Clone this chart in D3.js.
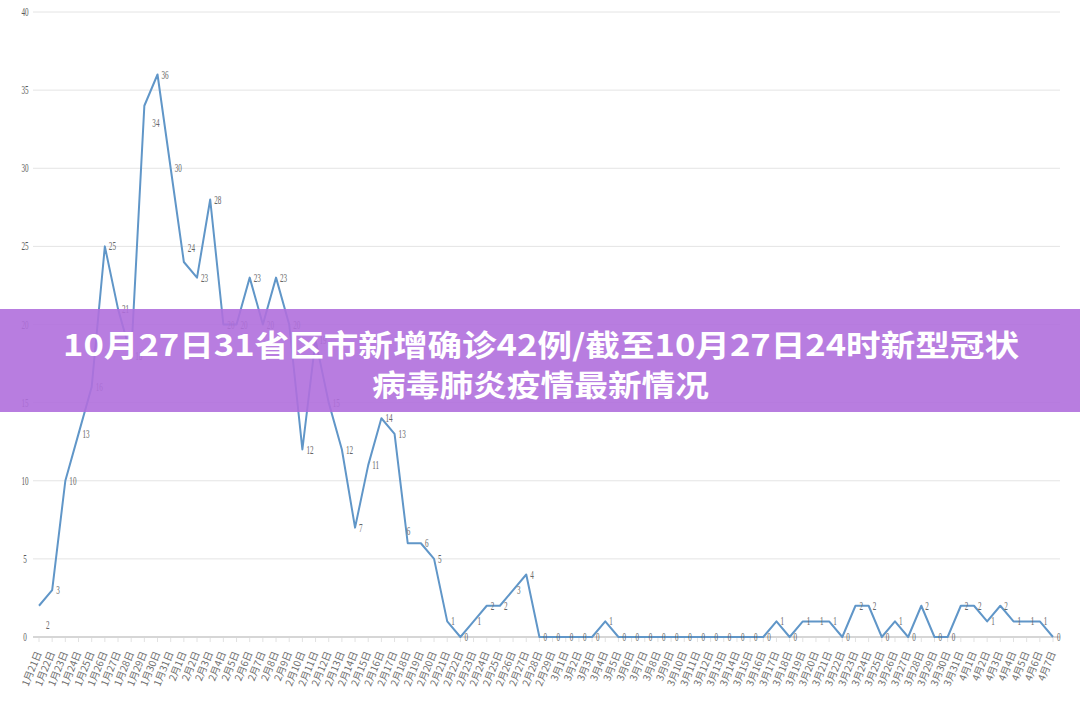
<!DOCTYPE html>
<meta charset="utf-8">

<style>

  body {
    margin: 0;
    background: white;
  }

  .grid {
    stroke: #e4e4e4;
    stroke-width: 1px;
  }

  .baseline {
    stroke: #d6d6d6;
    stroke-width: 2px;
  }

  .yTick {
    font-family: "Liberation Serif", serif;
    font-size: 13px;
    fill: #595959;
    text-anchor: middle;
  }

  .xTick {
    font-family: "Noto Sans CJK SC", sans-serif;
    font-size: 10px;
    fill: #6e6e6e;
    text-anchor: end;
  }

  .ptLabel {
    font-family: "Liberation Serif", serif;
    font-size: 13px;
    fill: #666666;
  }

  .title {
    font-family: "Noto Sans CJK SC", sans-serif;
    font-size: 30px;
    font-weight: 700;
    fill: white;
  }

</style>

<body>
<script src="https://cdn.jsdelivr.net/npm/d3@7"></script>
<script>

// Data
const dates = [
  "1月21日","1月22日","1月23日","1月24日","1月25日","1月26日","1月27日","1月28日","1月29日","1月30日","1月31日",
  "2月1日","2月2日","2月3日","2月4日","2月5日","2月6日","2月7日","2月8日","2月9日","2月10日",
  "2月11日","2月12日","2月13日","2月14日","2月15日","2月16日","2月17日","2月18日","2月19日","2月20日",
  "2月21日","2月22日","2月23日","2月24日","2月25日","2月26日","2月27日","2月28日","2月29日",
  "3月1日","3月2日","3月3日","3月4日","3月5日","3月6日","3月7日","3月8日","3月9日","3月10日",
  "3月11日","3月12日","3月13日","3月14日","3月15日","3月16日","3月17日","3月18日","3月19日","3月20日",
  "3月21日","3月22日","3月23日","3月24日","3月25日","3月26日","3月27日","3月28日","3月29日","3月30日","3月31日",
  "4月1日","4月2日","4月3日","4月4日","4月5日","4月6日","4月7日"
]

const cases = [
  2, 3, 10, 13, 16, 25, 21, 18, 34, 36,
  30, 24, 23, 28, 20, 20, 23, 20, 23, 20,
  12, 19, 15, 12, 7, 11, 14, 13, 6, 6,
  5, 1, 0, 1, 2, 2, 3, 4, 0, 0,
  0, 0, 0, 1, 0, 0, 0, 0, 0, 0,
  0, 0, 0, 0, 0, 0, 1, 0, 1, 1,
  1, 0, 2, 2, 0, 1, 0, 2, 0, 0,
  2, 2, 1, 2, 1, 1, 1, 0
]

const yTicks = [0, 5, 10, 15, 20, 25, 30, 35, 40]

const titleLines = [
  "10月27日31省区市新增确诊42例/截至10月27日24时新型冠状",
  "病毒肺炎疫情最新情况"
]

// label offsets where the default (right of the point) is not used
const labelShift = {0: [7, 19], 8: [8, 17], 11: [4, -14], 28: [-1, -12]}

//SVG setup
const width = 1080,
      height = 723,
      plot = {left: 39, right: 1053, top: 12, bottom: 637}

const svg = d3.select("body")
  .append("svg")
    .attr("width", width)
    .attr("height", height)

const x = d3.scalePoint()
    .domain(dates)
    .range([plot.left, plot.right])

const y = d3.scaleLinear()
    .domain([0, 40])
    .range([plot.bottom, plot.top])

// grid
svg.selectAll(".grid")
  .data(yTicks.filter(d => d > 0))
  .enter().append("line")
    .attr("class", "grid")
    .attr("x1", 33)
    .attr("x2", 1060)
    .attr("y1", d => y(d))
    .attr("y2", d => y(d))

svg.append("line")
  .attr("class", "baseline")
  .attr("x1", 33)
  .attr("x2", 1060)
  .attr("y1", y(0))
  .attr("y2", y(0))

svg.selectAll(".yTick")
  .data(yTicks)
  .enter().append("text")
    .attr("class", "yTick")
    .attr("transform", d => `translate(25, ${y(d) + 4}) scale(0.55, 1)`)
    .text(d => d)

// x ticks and labels
svg.selectAll(".xMark")
  .data(dates)
  .enter().append("line")
    .attr("class", "xMark")
    .attr("x1", d => x(d))
    .attr("x2", d => x(d))
    .attr("y1", y(0) + 1)
    .attr("y2", y(0) + 5)
    .attr("stroke", "#e2e2e2")

svg.selectAll(".xTick")
  .data(dates)
  .enter().append("text")
    .attr("class", "xTick")
    .attr("transform", d => `translate(${x(d) + 3}, 653) rotate(-68)`)
    .text(d => d)

// line
const line = d3.line()
    .x((d, i) => x(dates[i]))
    .y(d => y(d))

svg.append("path")
  .datum(cases)
  .attr("d", line)
  .attr("fill", "none")
  .attr("stroke", "#6096c8")
  .attr("stroke-width", 2)
  .attr("stroke-linejoin", "round")

svg.selectAll(".ptLabel")
  .data(cases)
  .enter().append("text")
    .attr("class", "ptLabel")
    .attr("transform", (d, i) => {
      const [dx, dy] = labelShift[i] || [4, 0]
      return `translate(${x(dates[i]) + dx}, ${y(d) + dy + 4}) scale(0.55, 1)`
    })
    .text(d => d)

// title banner
svg.append("rect")
  .attr("x", 0)
  .attr("y", 309)
  .attr("width", width)
  .attr("height", 103)
  .attr("fill", "rgb(176, 111, 221)")
  .attr("fill-opacity", 0.9)

svg.append("text")
  .attr("class", "title")
  .attr("x", 63)
  .attr("y", 356)
  .attr("textLength", 956)
  .attr("lengthAdjust", "spacingAndGlyphs")
  .text(titleLines[0])

svg.append("text")
  .attr("class", "title")
  .attr("x", 372)
  .attr("y", 396)
  .attr("textLength", 337)
  .attr("lengthAdjust", "spacingAndGlyphs")
  .text(titleLines[1])

</script>

</body>
</html>
